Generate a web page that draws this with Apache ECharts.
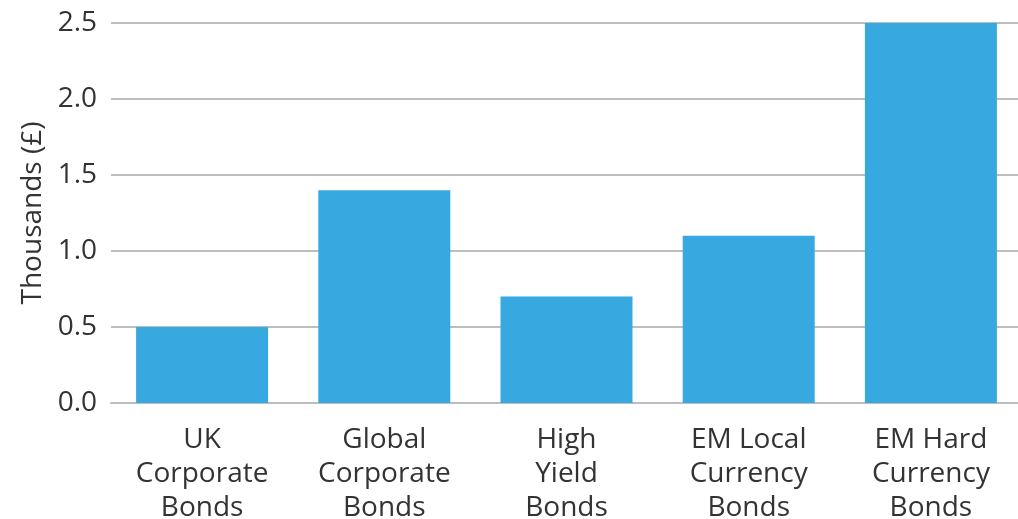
<!DOCTYPE html>
<html><head><meta charset="utf-8">
<script src="https://cdn.jsdelivr.net/npm/echarts@6/dist/echarts.min.js"></script>
<style>html,body{margin:0;padding:0;background:#fff}#c{width:1018px;height:519px}</style>
</head><body><div id="c"></div>
<script>
const categories = ["UK\nCorporate\nBonds", "Global\nCorporate\nBonds", "High\nYield\nBonds", "EM Local\nCurrency\nBonds", "EM Hard\nCurrency\nBonds"];
const values = [0.5, 1.4, 0.7, 1.1, 2.5];
const yTicks = ["0.0", "0.5", "1.0", "1.5", "2.0", "2.5"];
const yName = "Thousands (£)";

const chart = echarts.init(document.getElementById('c'), null, {renderer: 'canvas'});
const font = "'Open Sans', 'Noto Sans', sans-serif";
chart.setOption({
  animation: false,
  grid: {left: 111, top: 23, width: 911, height: 380, containLabel: false, outerBoundsMode: 'none'},
  xAxis: {
    type: 'category', data: categories,
    axisLine: {lineStyle: {color: '#bdbdbd', width: 2}},
    axisTick: {show: false},
    axisLabel: {color: '#333', fontSize: 28, lineHeight: 34, fontFamily: font, margin: 20, interval: 0}
  },
  yAxis: {
    type: 'value', min: 0, max: 2.5, interval: 0.5,
    name: yName, nameLocation: 'middle', nameGap: 64, nameRotate: 90,
    nameTextStyle: {color: '#333', fontSize: 28, fontFamily: font},
    axisLine: {show: false}, axisTick: {show: false},
    splitLine: {lineStyle: {color: '#a8a8a8', width: 1.5}},
    axisLabel: {color: '#333', fontSize: 28, fontFamily: font, margin: 14,
      formatter: v => yTicks[Math.round(v / 0.5)]}
  },
  series: [{
    type: 'bar', data: values, barWidth: 132,
    itemStyle: {color: '#38a9e0'}
  }]
});
</script></body></html>
